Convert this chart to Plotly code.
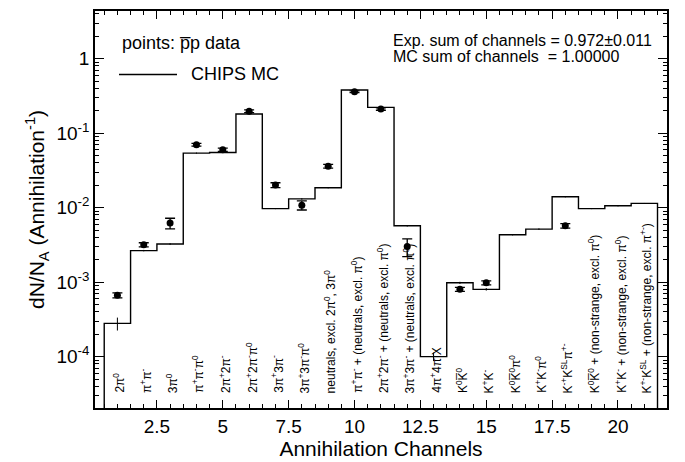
import plotly.graph_objects as go

# ---------------- data ----------------
channels = list(range(1, 22))
mc_values = [2.79e-4, 2.65e-3, 3.25e-3, 0.054, 0.055, 0.181, 0.0097, 0.0131, 0.0185,
             0.38, 0.222, 0.0057, 1.0e-4, 9.8e-4, 8.0e-4, 4.33e-3, 5.15e-3, 0.0140,
             0.0097, 0.0106, 0.0114]
mc_errors = [0.55e-4, 0.6e-4, 0.6e-4, 0.4e-3, 0.4e-3, 0.8e-3, 0.15e-3, 0.2e-3, 0.25e-3,
             1.2e-3, 1.0e-3, 0.1e-3, 0.13e-4, 0.3e-4, 0.3e-4, 0.07e-3, 0.08e-3, 0.2e-3,
             0.15e-3, 0.15e-3, 0.15e-3]
data_values = [6.65e-4, 3.18e-3, 6.2e-3, 0.070, 0.060, 0.197, 0.0201, 0.0108, 0.036,
               0.36, 0.211, 3.0e-3, None, 8.0e-4, 9.8e-4, None, None, 5.7e-3,
               None, None, None]
data_errors = [0.5e-4, 0.2e-3, 1.0e-3, 0.003, 0.003, 0.008, 0.0015, 0.0015, 0.002,
               0.01, 0.008, 0.8e-3, None, 0.5e-4, 0.6e-4, None, None, 0.4e-3,
               None, None, None]
channel_labels = [
    "2π<sup>0</sup>",
    "π<sup>+</sup>π<sup>-</sup>",
    "3π<sup>0</sup>",
    "π<sup>+</sup>π<sup>-</sup>π<sup>0</sup>",
    "2π<sup>+</sup>2π<sup>-</sup>",
    "2π<sup>+</sup>2π<sup>-</sup>π<sup>0</sup>",
    "3π<sup>+</sup>3π<sup>-</sup>",
    "3π<sup>+</sup>3π<sup>-</sup>π<sup>0</sup>",
    "neutrals, excl. 2π<sup>0</sup>, 3π<sup>0</sup>",
    "π<sup>+</sup>π<sup>-</sup> + (neutrals, excl. π<sup>0</sup>)",
    "2π<sup>+</sup>2π<sup>-</sup> + (neutrals, excl. π<sup>0</sup>)",
    "3π<sup>+</sup>3π<sup>-</sup> + (neutrals, excl. π<sup>0</sup>)",
    "4π<sup>+</sup>4π<sup>-</sup>X",
    "K<sup>0</sup>K\u0305<sup>0</sup>",
    "K<sup>+</sup>K<sup>-</sup>",
    "K<sup>0</sup>K\u0305<sup>0</sup>π<sup>0</sup>",
    "K<sup>+</sup>K<sup>-</sup>π<sup>0</sup>",
    "K<sup>-+</sup>K<sup>SL</sup>π<sup>+-</sup>",
    "K<sup>0</sup>K\u0305<sup>0</sup> + (non-strange, excl. π<sup>0</sup>)",
    "K<sup>+</sup>K<sup>-</sup> + (non-strange, excl. π<sup>0</sup>)",
    "K<sup>+-</sup>K<sup>SL</sup> + (non-strange, excl. π<sup>+-</sup>)",
]
x_tick_vals = [2.5, 5, 7.5, 10, 12.5, 15, 17.5, 20]
x_tick_text = ["2.5", "5", "7.5", "10", "12.5", "15", "17.5", "20"]
y_tick_vals = [1, 0.1, 0.01, 0.001, 0.0001]
y_tick_text = ["1", "10<sup>-1</sup>", "10<sup>-2</sup>", "10<sup>-3</sup>", "10<sup>-4</sup>"]

# ---------------- layout constants ----------------
W, H = 685, 462
L, R, T, B = 95, 18, 9, 53
PW, PH = W - L - R, H - T - B
FONT = "Liberation Sans, Arial, Helvetica, sans-serif"
Y_LOG_RANGE = [-4.69, 0.64]
X_RANGE = [0.15, 21.86]


def px2paper(px, py):
    return (px - L) / PW, (H - B - py) / PH


fig = go.Figure()

# MC histogram as a step line (edges at channel +- 0.5)
ybottom = 10 ** (Y_LOG_RANGE[0] - 1)
step_x = [channels[0] - 0.5]
step_y = [ybottom]
for c, v in zip(channels, mc_values):
    step_x.append(c - 0.5)
    step_y.append(v)
step_x.append(channels[-1] + 0.5)
step_y.append(mc_values[-1])
step_x.append(channels[-1] + 0.5)
step_y.append(ybottom)
fig.add_trace(go.Scatter(x=step_x, y=step_y, mode="lines", line=dict(color="black", width=1.4, shape="hv"),
                         showlegend=False, hoverinfo="skip"))

# MC error ticks
fig.add_trace(go.Scatter(x=channels, y=mc_values, mode="markers", marker=dict(size=1, color="black"),
                         error_y=dict(type="data", array=mc_errors, color="black", thickness=1, width=0),
                         showlegend=False))

# data points
fig.add_trace(go.Scatter(x=channels, y=data_values, mode="markers",
                         marker=dict(symbol="circle", size=7, color="black"),
                         error_y=dict(type="data", array=data_errors, color="black", thickness=1.3, width=5),
                         showlegend=False))

annotations = []
# rotated channel labels
for c, lab in zip(channels, channel_labels):
    annotations.append(dict(x=c + 0.08, xref="x", y=px2paper(0, 396)[1], yref="paper",
                            text=lab, textangle=-90, showarrow=False, xanchor="center", yanchor="bottom",
                            font=dict(family=FONT, size=12, color="black")))

# legend-like text
lx, ly = px2paper(120, 41)
annotations.append(dict(x=lx, y=ly, xref="paper", yref="paper", text="points: p\u0305p data", showarrow=False,
                        xanchor="left", yanchor="middle", font=dict(family=FONT, size=18, color="black")))
lx, ly = px2paper(189, 72)
annotations.append(dict(x=lx, y=ly, xref="paper", yref="paper", text="CHIPS MC", showarrow=False,
                        xanchor="left", yanchor="middle", font=dict(family=FONT, size=18, color="black")))
lx, ly = px2paper(391, 39)
annotations.append(dict(x=lx, y=ly, xref="paper", yref="paper", text="Exp. sum of channels = 0.972±0.011",
                        showarrow=False, xanchor="left", yanchor="middle",
                        font=dict(family=FONT, size=16, color="black")))
lx, ly = px2paper(391, 55)
annotations.append(dict(x=lx, y=ly, xref="paper", yref="paper", text="MC sum of channels &nbsp;= 1.00000",
                        showarrow=False, xanchor="left", yanchor="middle",
                        font=dict(family=FONT, size=16, color="black")))

x0, y0 = px2paper(119, 73)
x1, _ = px2paper(177, 73)
shapes = [dict(type="line", xref="paper", yref="paper", x0=x0, x1=x1, y0=y0, y1=y0,
               line=dict(color="black", width=1.4))]

minor_y = [m * 10 ** e for e in range(-5, 1) for m in range(2, 10)]

fig.update_layout(
    width=W, height=H,
    margin=dict(l=L, r=R, t=T, b=B),
    paper_bgcolor="white", plot_bgcolor="white",
    font=dict(family=FONT, color="black"),
    annotations=annotations, shapes=shapes,
    showlegend=False,
)
fig.update_xaxes(
    range=X_RANGE, showgrid=False, zeroline=False,
    showline=True, linecolor="black", linewidth=1.5, mirror="allticks",
    ticks="inside", ticklen=8, tickwidth=1, tickcolor="black",
    tickmode="array", tickvals=x_tick_vals, ticktext=x_tick_text,
    tickfont=dict(family=FONT, size=19, color="black"),
    minor=dict(ticks="inside", ticklen=4, dtick=0.5, tick0=0, tickcolor="black", showgrid=False),
    title=dict(text="Annihilation Channels", font=dict(family=FONT, size=21, color="black"), standoff=2),
)
fig.update_yaxes(
    type="log", range=Y_LOG_RANGE, showgrid=False, zeroline=False,
    showline=True, linecolor="black", linewidth=1.5, mirror="allticks",
    ticks="inside", ticklen=9, tickwidth=1, tickcolor="black",
    tickmode="array", tickvals=y_tick_vals, ticktext=y_tick_text,
    tickfont=dict(family=FONT, size=19, color="black"),
    minor=dict(ticks="inside", ticklen=4, tickvals=minor_y, tickcolor="black", showgrid=False),
    title=dict(text="dN/N<sub>A</sub> (Annihilation<sup>-1</sup>)",
               font=dict(family=FONT, size=21, color="black"), standoff=6),
)

fig.write_html("out.html")
